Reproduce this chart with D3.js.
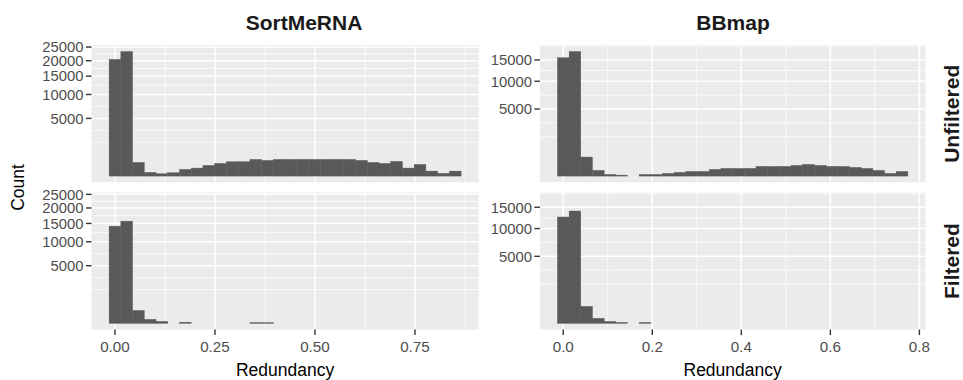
<!DOCTYPE html>
<html>
<head>
<meta charset="utf-8">
<script src="https://cdn.jsdelivr.net/npm/d3@7"></script>
<style>
  html, body { margin: 0; padding: 0; background: #fff; }
  svg { display: block; font-family: "Liberation Sans", Arial, Helvetica, sans-serif; }
</style>
</head>
<body>
<svg id="chart" width="963" height="380"></svg>
<script>
// ---------------- data ----------------
const methods = ["SortMeRNA", "BBmap"];
const filters = ["Unfiltered", "Filtered"];

// redundancy range (min, max) per method; 30 bins as in stat_bin default
const sortmernaRange = [0, 0.8507];
const bbmapRange = [0, 0.761];

// counts per bin (30 bins)
const sortmernaUnfiltered = [20450, 23300, 280, 20, 8, 17, 67, 96, 171, 241, 309, 309, 417, 369, 417,
                             417, 417, 417, 417, 417, 417, 369, 280, 241, 323, 96, 204, 37, 11, 37];
const sortmernaFiltered   = [14200, 15700, 253, 24, 6, 0, 2, 0, 0, 0, 0, 0, 1, 1, 0,
                             0, 0, 0, 0, 0, 0, 0, 0, 0, 0, 0, 0, 0, 0, 0];
const bbmapUnfiltered     = [15580, 17250, 402, 36, 3, 1, 0, 3, 3, 8, 15, 24, 24, 49, 65,
                             65, 65, 104, 104, 104, 127, 151, 127, 104, 104, 84, 65, 36, 8, 24];
const bbmapFiltered       = [12580, 14040, 322, 28, 4, 1, 0, 1, 0, 0, 0, 0, 0, 0, 0,
                             0, 0, 0, 0, 0, 0, 0, 0, 0, 0, 0, 0, 0, 0, 0];

const xTicksSortMeRNA = [0, 0.25, 0.5, 0.75];
const xLabelsSortMeRNA = ["0.00", "0.25", "0.50", "0.75"];
const xTicksBBmap = [0, 0.2, 0.4, 0.6, 0.8];
const xLabelsBBmap = ["0.0", "0.2", "0.4", "0.6", "0.8"];
const yTicksSortMeRNA = [5000, 10000, 15000, 20000, 25000];
const yTicksBBmap = [5000, 10000, 15000];

const xTitle = "Redundancy";
const yTitle = "Count";

// ---------------- layout ----------------
const colX = [[91.5, 478.7], [539.9, 925.4]];
const rowY = [[45.3, 182.3], [192.6, 329.6]];
const BAR = "#595959", PANEL = "#EBEBEB", TICKTXT = "#4D4D4D", TICK = "#333333";

const svg = d3.select("#chart");

const columns = [
  { name: methods[0], range: sortmernaRange, data: [sortmernaUnfiltered, sortmernaFiltered],
    xTicks: xTicksSortMeRNA, xLabels: xLabelsSortMeRNA, yTicks: yTicksSortMeRNA, stripX: 304 },
  { name: methods[1], range: bbmapRange, data: [bbmapUnfiltered, bbmapFiltered],
    xTicks: xTicksBBmap, xLabels: xLabelsBBmap, yTicks: yTicksBBmap, stripX: 733 }
];

// ggplot-like minor breaks (in transformed space)
function minorBreaks(b, lim) {
  b = b.slice();
  const bd = b[1] - b[0];
  if (lim[0] < b[0]) b.unshift(b[0] - bd);
  if (lim[1] > b[b.length - 1]) b.push(b[b.length - 1] + bd);
  const out = [];
  for (let i = 0; i < b.length - 1; i++) { out.push(b[i]); out.push((b[i] + b[i + 1]) / 2); }
  out.push(b[b.length - 1]);
  return out;
}

columns.forEach((col, ci) => {
  const nb = col.data[0].length;
  const w = (col.range[1] - col.range[0]) / (nb - 1);
  const lo = col.range[0] - w / 2, hi = col.range[1] + w / 2;
  const ex = 0.05 * (hi - lo);
  const x = d3.scaleLinear().domain([lo - ex, hi + ex]).range(colX[ci]);
  const maxC = d3.max(col.data.flat());
  const s = Math.sqrt(maxC);
  const tdom = [-0.05 * s, 1.05 * s];

  col.data.forEach((counts, ri) => {
    const y = d3.scaleSqrt().domain([-Math.pow(0.05 * s, 2), Math.pow(1.05 * s, 2)]).range([rowY[ri][1], rowY[ri][0]]);
    const g = svg.append("g");
    const clipId = "clip" + ci + ri;
    svg.append("clipPath").attr("id", clipId).append("rect")
      .attr("x", colX[ci][0]).attr("y", rowY[ri][0])
      .attr("width", colX[ci][1] - colX[ci][0]).attr("height", rowY[ri][1] - rowY[ri][0]);
    g.append("rect")
      .attr("x", colX[ci][0]).attr("y", rowY[ri][0])
      .attr("width", colX[ci][1] - colX[ci][0]).attr("height", rowY[ri][1] - rowY[ri][0])
      .attr("fill", PANEL);
    const grid = g.append("g").attr("clip-path", `url(#${clipId})`);
    // minor grid
    const xMin = minorBreaks(col.xTicks, x.domain()).filter(v => !col.xTicks.some(t => Math.abs(t - v) < 1e-9));
    const yMaj = col.yTicks.map(Math.sqrt);
    const yMinT = minorBreaks(yMaj, tdom).filter(v => !yMaj.some(t => Math.abs(t - v) < 1e-9));
    grid.selectAll(".xm").data(xMin).join("line")
      .attr("x1", d => x(d)).attr("x2", d => x(d)).attr("y1", rowY[ri][0]).attr("y2", rowY[ri][1])
      .attr("stroke", "#fff").attr("stroke-width", 0.75);
    grid.selectAll(".ym").data(yMinT).join("line")
      .attr("y1", d => y(Math.sign(d) * d * d)).attr("y2", d => y(Math.sign(d) * d * d))
      .attr("x1", colX[ci][0]).attr("x2", colX[ci][1])
      .attr("stroke", "#fff").attr("stroke-width", 0.75);
    // major grid
    grid.selectAll(".xM").data(col.xTicks).join("line")
      .attr("x1", d => x(d)).attr("x2", d => x(d)).attr("y1", rowY[ri][0]).attr("y2", rowY[ri][1])
      .attr("stroke", "#fff").attr("stroke-width", 1.5);
    grid.selectAll(".yM").data(col.yTicks).join("line")
      .attr("y1", d => y(d)).attr("y2", d => y(d)).attr("x1", colX[ci][0]).attr("x2", colX[ci][1])
      .attr("stroke", "#fff").attr("stroke-width", 1.5);
    // bars
    g.append("g").selectAll("rect").data(counts.map((c, i) => ({ c, i })).filter(d => d.c > 0)).join("rect")
      .attr("x", d => x(lo + d.i * w))
      .attr("width", d => x(lo + (d.i + 1) * w) - x(lo + d.i * w))
      .attr("y", d => y(d.c))
      .attr("height", d => y(0) - y(d.c))
      .attr("fill", BAR)
      .attr("stroke", BAR).attr("stroke-width", 0.4);

    // y axis
    const ya = g.append("g");
    col.yTicks.forEach(t => {
      ya.append("line").attr("x1", colX[ci][0] - 5.5).attr("x2", colX[ci][0])
        .attr("y1", y(t)).attr("y2", y(t)).attr("stroke", TICK).attr("stroke-width", 1.4);
      ya.append("text").attr("x", colX[ci][0] - 8).attr("y", y(t)).attr("dy", "0.36em")
        .attr("text-anchor", "end").attr("font-size", 14.8).attr("fill", TICKTXT).text(t);
    });

    // x axis on bottom row
    if (ri === 1) {
      const xa = g.append("g");
      col.xTicks.forEach((t, k) => {
        xa.append("line").attr("x1", x(t)).attr("x2", x(t))
          .attr("y1", rowY[ri][1]).attr("y2", rowY[ri][1] + 5.5).attr("stroke", TICK).attr("stroke-width", 1.4);
        xa.append("text").attr("x", x(t)).attr("y", rowY[ri][1] + 22.5)
          .attr("text-anchor", "middle").attr("font-size", 15.2).attr("fill", TICKTXT).text(col.xLabels[k]);
      });
      svg.append("text").attr("x", (colX[ci][0] + colX[ci][1]) / 2).attr("y", 376)
        .attr("text-anchor", "middle").attr("font-size", 17.5).attr("fill", "#000").text(xTitle);
    }
  });

  // top strip text
  svg.append("text").attr("x", col.stripX).attr("y", 30)
    .attr("text-anchor", "middle").attr("font-size", 21).attr("font-weight", "bold")
    .attr("fill", "#1A1A1A").text(col.name);
});

// right strip texts
filters.forEach((f, ri) => {
  const cy = (rowY[ri][0] + rowY[ri][1]) / 2;
  svg.append("text").attr("transform", `translate(959,${cy}) rotate(-90)`)
    .attr("text-anchor", "middle").attr("font-size", 21).attr("font-weight", "bold")
    .attr("fill", "#1A1A1A").text(f);
});

// y title
svg.append("text").attr("transform", `translate(24,${(rowY[0][0] + rowY[1][1]) / 2}) rotate(-90)`)
  .attr("text-anchor", "middle").attr("font-size", 17.5).attr("fill", "#000").text(yTitle);
</script>
</body>
</html>
